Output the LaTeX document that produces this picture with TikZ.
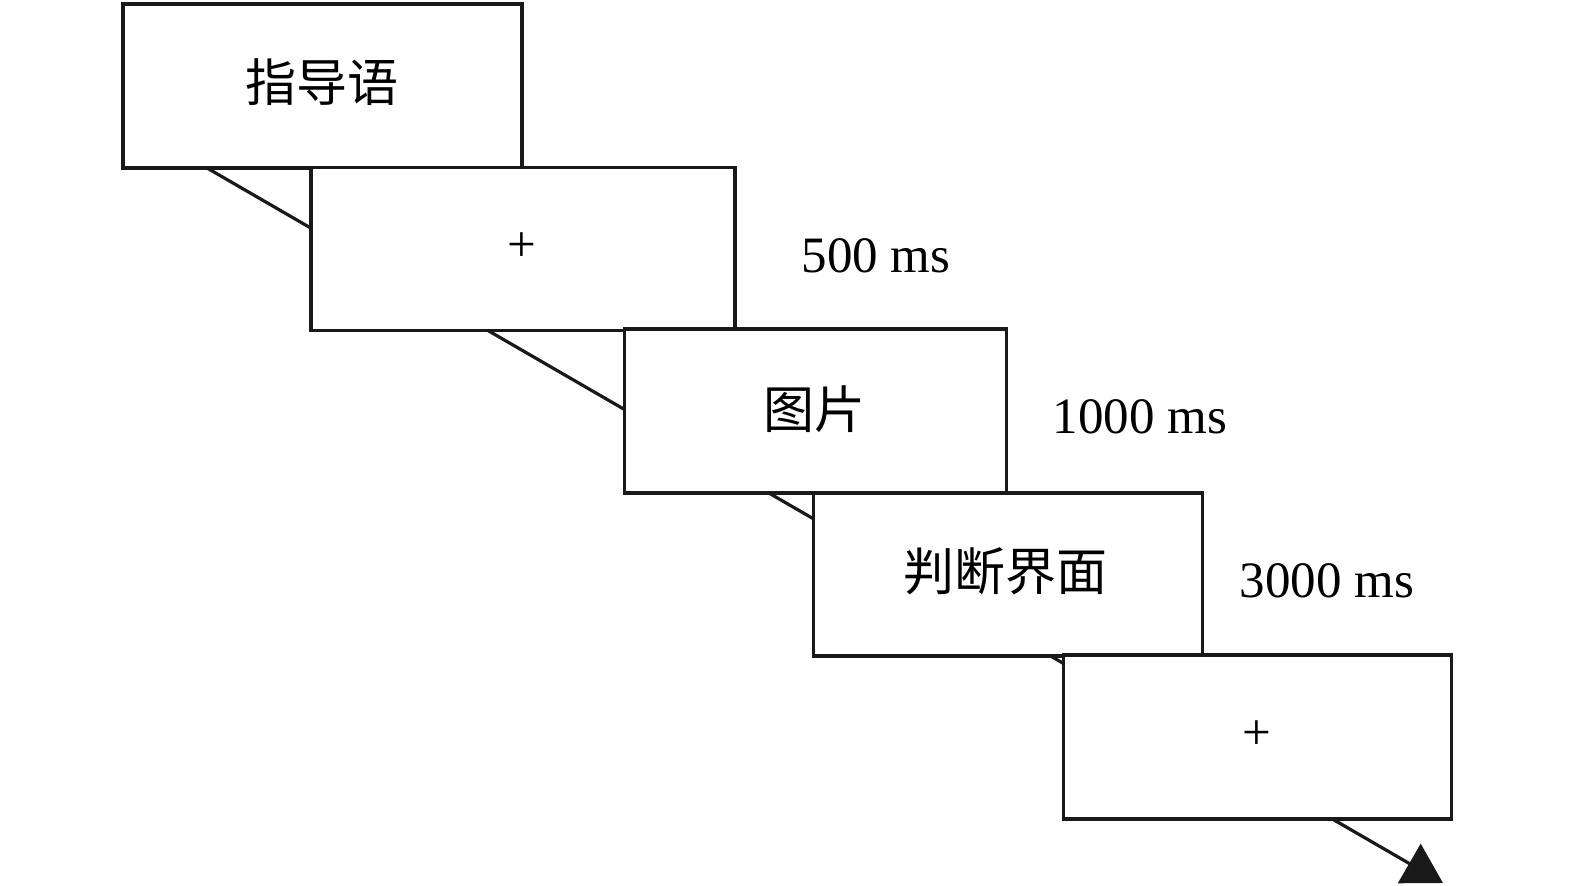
\documentclass[tikz,border=0pt]{standalone}
\usepackage{fontspec}
\setmainfont{Liberation Serif}
\newfontfamily\cjk{Noto Sans CJK SC}
\usetikzlibrary{arrows.meta}
\begin{document}
\begin{tikzpicture}[x=0.5pt,y=-0.5pt,
  stage/.style={draw=black!90,line width=1.6pt,fill=white,inner sep=0pt},
  dur/.style={inner sep=0pt,font=\fontsize{25.5}{30}\selectfont},
  cjklab/.style={inner sep=0pt,font=\fontsize{25.5}{30}\selectfont\cjk},
  flow/.style={draw=black!90,line width=1.6pt,-{Triangle[length=19.5pt,width=22.5pt]}}]
\useasboundingbox (0,0) rectangle (1575,886);
\coordinate (s) at (207,168);
\coordinate (e) at (1443,883);
\draw[flow] (s) -- (e);
\node[stage,minimum width=199.5pt,minimum height=82pt] (b1) at (322.5,86) {};
\node[cjklab] (t1) at (322,82) {指导语};
\node[stage,minimum width=212pt,minimum height=81.5pt] (b2) at (523,249) {};
\node[dur] (t2) at (522,247) {+};
\node[stage,minimum width=191pt,minimum height=82pt] (b3) at (815.5,411) {};
\node[cjklab] (t3) at (814,409) {图片};
\node[stage,minimum width=194.5pt,minimum height=81.5pt] (b4) at (1008,574.5) {};
\node[cjklab] (t4) at (1005,571) {判断界面};
\node[stage,minimum width=194pt,minimum height=82pt] (b5) at (1257.5,737) {};
\node[dur] (t5) at (1257,735) {+};
\node[dur] (d1) at (876,256) {500 ms};
\node[dur] (d2) at (1140,417) {1000 ms};
\node[dur] (d3) at (1327,581) {3000 ms};
\end{tikzpicture}
\end{document}
